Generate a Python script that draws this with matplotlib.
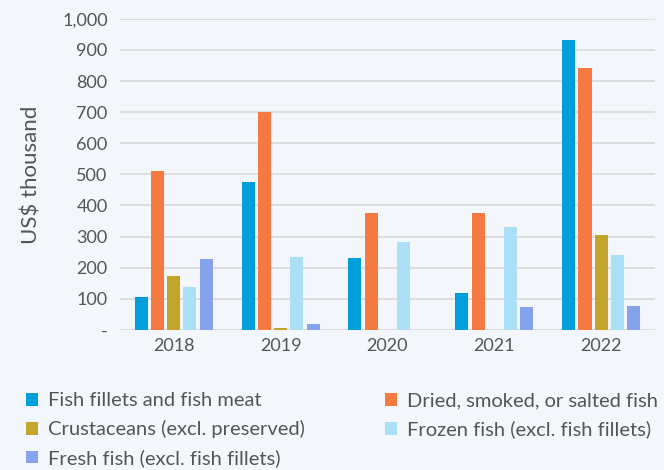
import numpy as np
import matplotlib.pyplot as plt
from matplotlib.ticker import FuncFormatter
from matplotlib.patches import Patch

# Data (US$ thousand)
years = ['2018', '2019', '2020', '2021', '2022']
series_names = [
    'Fish fillets and fish meat',
    'Dried, smoked, or salted fish',
    'Crustaceans (excl. preserved)',
    'Frozen fish (excl. fish fillets)',
    'Fresh fish (excl. fish fillets)',
]
fillets = [107, 475, 230, 120, 933]
dried = [510, 701, 376, 376, 843]
crustaceans = [172, 7, 1, 1, 304]
frozen = [137, 233, 282, 330, 240]
fresh = [227, 18, 1, 73, 76]
colors = ['#009edb', '#f47a42', '#c4a52c', '#abdff5', '#85a2ec']

bg = '#f3f6fb'
text_col = '#555555'
plt.rcParams['font.family'] = ['Lato', 'DejaVu Sans']

fig = plt.figure(figsize=(6.64, 4.70), dpi=100, facecolor=bg)
ax = fig.add_axes([0.181, 0.298, 0.805, 0.662], facecolor=bg)

x = np.arange(len(years))
pitch = 0.152
width = 0.122
all_series = [fillets, dried, crustaceans, frozen, fresh]
for i, (vals, col) in enumerate(zip(all_series, colors)):
    ax.bar(x + (i - 2) * pitch, vals, width=width, color=col, zorder=3)

ax.set_xlim(-0.5, 4.5)
ax.set_ylim(0, 1000)
ax.set_yticks(np.arange(0, 1001, 100))
ax.yaxis.set_major_formatter(FuncFormatter(lambda v, p: '-' if v == 0 else f'{int(v):,}'))
ax.set_xticks(x)
ax.set_xticklabels(years)
ax.grid(axis='y', color='#d9d9d9', linewidth=1.2, zorder=0)
for s in ax.spines.values():
    s.set_visible(False)
ax.tick_params(axis='both', length=0, labelsize=13, colors=text_col, pad=6)
ax.tick_params(axis='y', pad=9)
ax.set_ylabel('US$ thousand', fontsize=16, color=text_col, labelpad=15)

# legend filled row-wise like the reference
order = [0, 2, 4, 1, 3]
handles = [Patch(facecolor=colors[k], label=series_names[k]) for k in order]
fig.legend(handles=handles, loc='upper left', bbox_to_anchor=(0.018, 0.195), ncol=2,
           frameon=False, fontsize=14.5, handlelength=0.6, handleheight=0.6,
           handletextpad=0.5, columnspacing=3.95, labelspacing=0.54, labelcolor=text_col,
           borderpad=0.2)

fig.savefig('out.png', dpi=100, facecolor=bg)
